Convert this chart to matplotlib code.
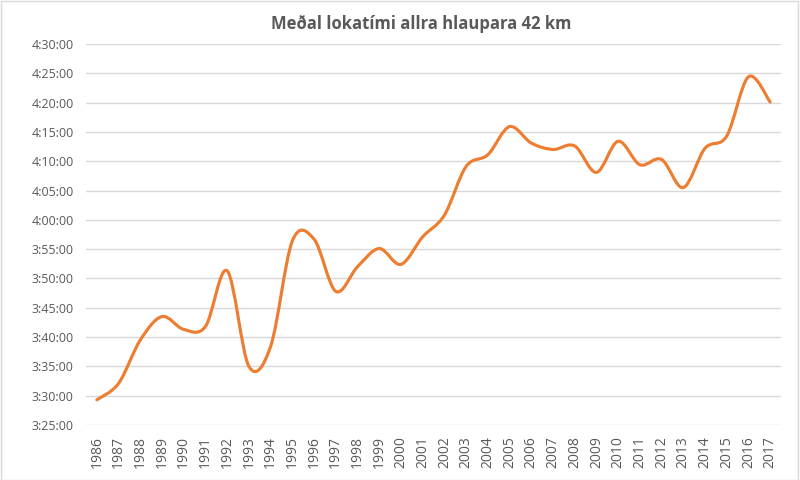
import matplotlib
matplotlib.use("Agg")
import matplotlib.pyplot as plt
import numpy as np
from matplotlib.path import Path
from matplotlib.patches import PathPatch, Rectangle

plt.rcParams['font.family'] = ['Open Sans', 'DejaVu Sans']

years = list(range(1986, 2018))
# mean finishing time, minutes after 3:00:00
minutes = [29.3, 32.1, 39.5, 43.5, 41.3, 41.8, 51.3, 35.0, 38.4, 56.4,
           56.7, 47.8, 52.0, 55.1, 52.4, 57.1, 60.8, 69.1, 71.1, 75.9,
           73.1, 72.0, 72.6, 68.1, 73.4, 69.4, 70.3, 65.5, 72.2, 74.3,
           84.4, 80.1]
yticks = list(range(25, 95, 5))

title = 'Meðal lokatími allra hlaupara 42 km'
line_color = '#ED7D31'
text_color = '#595959'
grid_color = '#D9D9D9'


def fmt(m):
    h = 3 + int(m) // 60
    return '%d:%02d:00' % (h, int(m) % 60)


def smooth_path(x, y):
    # Excel-style smoothed line: cubic Bezier with Catmull-Rom control points
    x = np.asarray(x, float)
    y = np.asarray(y, float)
    n = len(x)
    verts = [(x[0], y[0])]
    codes = [Path.MOVETO]
    for i in range(n - 1):
        p0 = i - 1 if i > 0 else i
        p3 = i + 2 if i + 2 < n else i + 1
        c1 = (x[i] + (x[i + 1] - x[p0]) / 6, y[i] + (y[i + 1] - y[p0]) / 6)
        c2 = (x[i + 1] - (x[p3] - x[i]) / 6, y[i + 1] - (y[p3] - y[i]) / 6)
        verts += [c1, c2, (x[i + 1], y[i + 1])]
        codes += [Path.CURVE4] * 3
    return Path(verts, codes)


fig = plt.figure(figsize=(8, 4.8), dpi=100)
ax = fig.add_axes([0.1075, 0.1146, 0.8688, 0.7938])

xs = np.arange(len(years))
ax.add_patch(PathPatch(smooth_path(xs, minutes), facecolor='none',
                       edgecolor=line_color, lw=2.25, capstyle='round',
                       joinstyle='round', zorder=3))

ax.set_xlim(-0.5, len(years) - 0.5)
ax.set_ylim(25, 90)
ax.set_yticks(yticks)
ax.set_yticklabels([fmt(m) for m in yticks], fontsize=9, color=text_color)
ax.set_xticks(xs)
ax.set_xticklabels([str(y) for y in years], rotation=90, fontsize=10,
                   color=text_color)
ax.tick_params(length=0, pad=9)
ax.tick_params(axis='x', pad=8)
ax.grid(axis='y', color=grid_color, lw=1)
ax.set_axisbelow(True)
for s in ax.spines.values():
    s.set_visible(False)

fig.text(0.527, 0.95, title, ha='center', va='center', fontsize=12,
         fontweight='bold', color=text_color)
fig.patches.append(Rectangle((0.001, 0.001), 0.997, 0.997, transform=fig.transFigure,
                             fill=False, edgecolor=grid_color, lw=1))

fig.savefig('out.png', dpi=100)
